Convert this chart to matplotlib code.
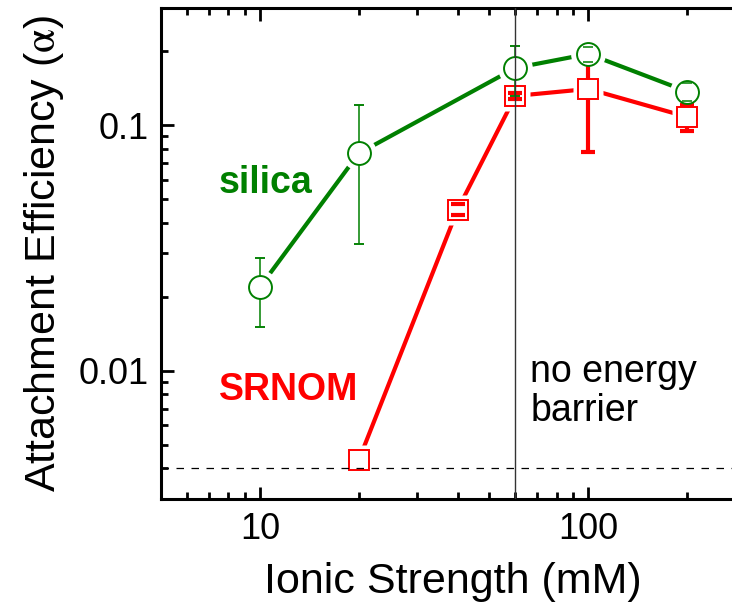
import matplotlib
matplotlib.use("Agg")
import matplotlib.pyplot as plt
from matplotlib.ticker import LogLocator, NullFormatter, FixedLocator, FixedFormatter

plt.rcParams['font.family'] = ['Liberation Sans', 'DejaVu Sans']
plt.rcParams['mathtext.fontset'] = 'stix'

# ionic strength (mM) and attachment efficiency
silica_x = [10, 20, 60, 100, 200]
silica_y = [0.0219, 0.0767, 0.171, 0.195, 0.137]
silica_err = [0.0068, 0.044, 0.040, 0.014, 0.0115]

srnom_x = [20, 40, 60, 100, 200]
srnom_y = [0.00432, 0.0453, 0.1315, 0.1404, 0.108]
srnom_err = [0.0, 0.0022, 0.004, 0.063, 0.013]

detection_limit = 0.004
barrier_is = 60

GREEN = '#008000'
RED = '#ff0000'

fig = plt.figure(figsize=(7.32, 6.05), dpi=100)
ax = fig.add_axes([0.22, 0.1752, 0.7978, 0.8116])
ax.set_xscale('log')
ax.set_yscale('log')
ax.set_xlim(5, 300)
ax.set_ylim(0.003, 0.3)

# connecting lines, then white blanks round the markers to leave a gap
ax.plot(silica_x, silica_y, color=GREEN, lw=3, zorder=1, solid_capstyle='butt')
ax.plot(srnom_x, srnom_y, color=RED, lw=3, zorder=1, solid_capstyle='butt')
ax.plot(silica_x, silica_y, 'o', ms=25, mfc='white', mec='none', ls='none', zorder=2)
ax.plot(srnom_x, srnom_y, 's', ms=22, mfc='white', mec='none', ls='none', zorder=2)

# only points with a measured spread get error bars
ex = [x for x, e in zip(srnom_x, srnom_err) if e > 0]
ey = [y for y, e in zip(srnom_y, srnom_err) if e > 0]
ee = [e for e in srnom_err if e > 0]

# SRNOM error bars and markers
ax.errorbar(ex, ey, yerr=ee, fmt='none', ecolor=RED,
            elinewidth=3, capsize=0, zorder=3)
ax.plot(srnom_x, srnom_y, 's', ms=14.5, mfc='white', mec=RED, mew=1.4,
        ls='none', zorder=4)
ax.errorbar(ex, ey, yerr=ee, fmt='none', ecolor=RED,
            elinewidth=0, capsize=4.7, capthick=3, zorder=5)

# silica error bars and markers
ax.errorbar(silica_x, silica_y, yerr=silica_err, fmt='none', ecolor=GREEN,
            elinewidth=1.1, capsize=3.3, capthick=1.1, zorder=6)
ax.plot(silica_x, silica_y, 'o', ms=16.5, mfc='white', mec=GREEN, mew=1.4,
        ls='none', zorder=7)
ax.errorbar(silica_x, silica_y, yerr=silica_err, fmt='none', ecolor=GREEN,
            elinewidth=0, capsize=3.3, capthick=1.1, zorder=8)

# reference lines
ax.axhline(detection_limit, color='black', lw=0.9, ls=(0, (6, 6)), zorder=9)
ax.axvline(barrier_is, color='#333333', lw=1.0, zorder=9)

ax.text(7.5, 0.058, 'silica', color=GREEN, fontsize=27, fontweight='bold',
        ha='left', va='center')
ax.text(7.5, 0.0083, 'SRNOM', color=RED, fontsize=27, fontweight='bold',
        ha='left', va='center')
ax.text(66.5, 0.0082, 'no energy\nbarrier', color='black', fontsize=27,
        ha='left', va='center', linespacing=1.1)

# ticks
ax.xaxis.set_major_locator(FixedLocator([10, 100]))
ax.xaxis.set_major_formatter(FixedFormatter(['10', '100']))
ax.xaxis.set_minor_locator(LogLocator(base=10, subs=range(2, 10), numticks=20))
ax.xaxis.set_minor_formatter(NullFormatter())
ax.yaxis.set_major_locator(FixedLocator([0.01, 0.1]))
ax.yaxis.set_major_formatter(FixedFormatter(['0.01', '0.1']))
ax.yaxis.set_minor_locator(LogLocator(base=10, subs=range(2, 10), numticks=20))
ax.yaxis.set_minor_formatter(NullFormatter())

ax.tick_params(which='both', direction='in', top=True, right=False,
               labelsize=26, width=2, pad=9)
ax.tick_params(which='major', length=9)
ax.tick_params(which='minor', length=5)

for side in ['left', 'bottom', 'top']:
    ax.spines[side].set_linewidth(2.2)
ax.spines['right'].set_visible(False)

ax.set_xlabel('Ionic Strength (mM)', fontsize=31, labelpad=11)
ax.set_ylabel(r'Attachment Efficiency ($\mathrm{\alpha}$)', fontsize=31, labelpad=9)

fig.savefig('out.png', dpi=100)
